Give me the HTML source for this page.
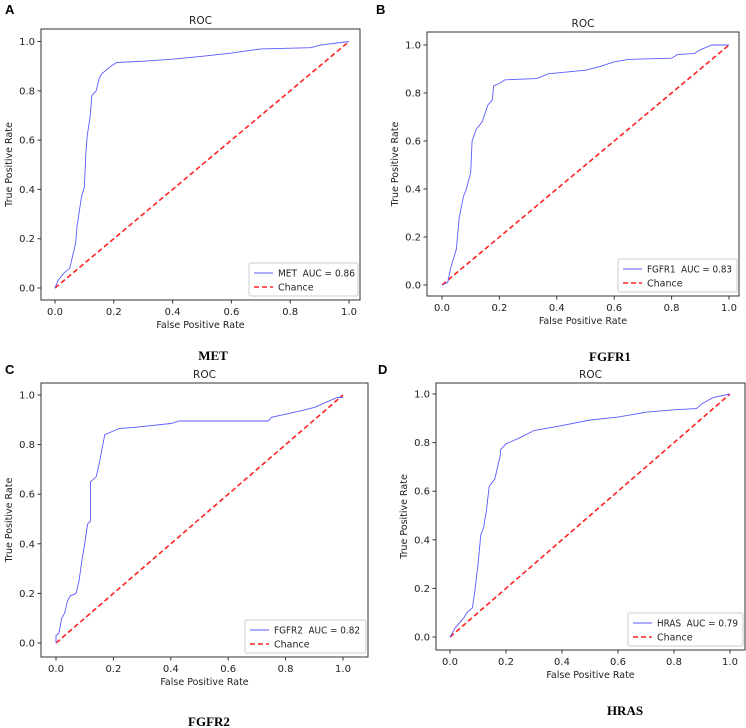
<!DOCTYPE html>
<html><head><meta charset="utf-8">
<style>
html,body{margin:0;padding:0;background:#fff;}
svg{display:block;font-family:"DejaVu Sans","Liberation Sans",sans-serif;}
</style></head>
<body>
<svg id="fig" width="746" height="728" viewBox="0 0 746 728"></svg>
<script>
// Data arrays
const tickValues = [0.0, 0.2, 0.4, 0.6, 0.8, 1.0];
const tickLabels = ["0.0", "0.2", "0.4", "0.6", "0.8", "1.0"];
const panelLetters = ["A", "B", "C", "D"];
const geneNames = ["MET", "FGFR1", "FGFR2", "HRAS"];
const aucValues = ["0.86", "0.83", "0.82", "0.79"];
const metFpr = [0,0.01,0.03,0.05,0.06,0.07,0.075,0.085,0.09,0.1,0.105,0.11,0.12,0.125,0.14,0.15,0.16,0.19,0.21,0.3,0.4,0.5,0.6,0.7,0.87,0.9,1];
const metTpr = [0,0.03,0.06,0.08,0.13,0.18,0.25,0.33,0.37,0.41,0.55,0.62,0.70,0.78,0.80,0.85,0.87,0.9,0.915,0.92,0.928,0.94,0.953,0.97,0.975,0.985,1];
const fgfr1Fpr = [0,0.02,0.03,0.05,0.06,0.075,0.085,0.1,0.105,0.12,0.14,0.16,0.175,0.18,0.2,0.22,0.33,0.37,0.5,0.55,0.6,0.65,0.8,0.82,0.88,0.9,0.94,1];
const fgfr1Tpr = [0,0.01,0.07,0.15,0.28,0.37,0.40,0.47,0.6,0.65,0.68,0.75,0.77,0.83,0.84,0.855,0.86,0.88,0.895,0.91,0.93,0.94,0.945,0.96,0.965,0.98,1.0,1];
const fgfr2Fpr = [0,0,0.01,0.02,0.03,0.04,0.05,0.07,0.08,0.09,0.1,0.11,0.12,0.12,0.14,0.15,0.16,0.17,0.2,0.22,0.28,0.4,0.43,0.74,0.75,0.85,0.9,0.95,0.98,1];
const fgfr2Tpr = [0,0.03,0.04,0.1,0.12,0.17,0.19,0.2,0.25,0.33,0.4,0.48,0.49,0.65,0.67,0.72,0.78,0.84,0.855,0.865,0.87,0.885,0.895,0.895,0.91,0.935,0.95,0.975,0.99,0.99];
const hrasFpr = [0,0.02,0.05,0.06,0.08,0.09,0.1,0.11,0.12,0.13,0.14,0.16,0.17,0.18,0.18,0.2,0.25,0.3,0.4,0.5,0.6,0.7,0.8,0.88,0.9,0.94,1];
const hrasTpr = [0,0.04,0.08,0.1,0.12,0.2,0.3,0.42,0.45,0.52,0.62,0.65,0.7,0.75,0.77,0.795,0.82,0.85,0.87,0.893,0.905,0.925,0.935,0.94,0.96,0.985,1];
const seriesFpr = [metFpr, fgfr1Fpr, fgfr2Fpr, hrasFpr];
const seriesTpr = [metTpr, fgfr1Tpr, fgfr2Tpr, hrasTpr];

// layout (not data)
const layouts = [
  {bl:41,br:360,bt:29,bb:300,x0:55,x1:349,y1:41.5,y0:288,lx:5,ly:14,cx:213,cy:360,lw:109,tl:77},
  {bl:427,br:739,bt:32,bb:296,x0:442,x1:729,y1:45,y0:285,lx:376,ly:14,cx:610,cy:361,lw:119,tl:85},
  {bl:41,br:368,bt:383,bb:657,x0:56,x1:343,y1:395,y0:643,lx:5,ly:374,cx:209,cy:726,lw:121,tl:86},
  {bl:436,br:745,bt:383,bb:650,x0:450,x1:730,y1:394,y0:637,lx:378,ly:374,cx:625,cy:715,lw:115,tl:81}
];
const NS = "http://www.w3.org/2000/svg";
const svg = document.getElementById("fig");
function mk(tag, attrs, parent, txt){
  const e = document.createElementNS(NS, tag);
  for (const k in attrs) e.setAttribute(k, attrs[k]);
  if (txt !== undefined) e.textContent = txt;
  parent.appendChild(e);
  return e;
}
layouts.forEach((L, i) => {
  const g = mk("g", {}, svg);
  
  
  const xs = v => L.x0 + v * (L.x1 - L.x0);
  const ys = v => L.y0 - v * (L.y0 - L.y1);
  const letter = mk("text", {x:L.lx, y:L.ly, "font-size":13, "font-weight":"bold", "font-family":"Liberation Sans, sans-serif"}, g, panelLetters[i]);
  
  
  const title = mk("text", {x:(L.bl+L.br)/2, y:L.bt-5, "font-size":10.5, "text-anchor":"middle", fill:"#222"}, g, "ROC");
  
  
  const frame = mk("rect", {x:L.bl, y:L.bt, width:L.br-L.bl, height:L.bb-L.bt, fill:"none", stroke:"#333", "stroke-width":1}, g);
  
  
  tickValues.forEach((t, k) => {
    mk("line", {x1:xs(t), x2:xs(t), y1:L.bb, y2:L.bb+3.5, stroke:"#333"}, g);
    const xt = mk("text", {x:xs(t), y:L.bb+15, "font-size":10, "text-anchor":"middle", fill:"#222"}, g, tickLabels[k]);
    
    
    mk("line", {x1:L.bl-3.5, x2:L.bl, y1:ys(t), y2:ys(t), stroke:"#333"}, g);
    const yt = mk("text", {x:L.bl-6, y:ys(t)+3.5, "font-size":10, "text-anchor":"end", fill:"#222"}, g, tickLabels[k]);
    
    
  });
  const xl = mk("text", {x:(L.bl+L.br)/2, y:L.bb+28, "font-size":9.5, "text-anchor":"middle", fill:"#222"}, g, "False Positive Rate");
  
  
  const yx = L.bl - 29, yy = (L.bt + L.bb) / 2;
  const yl = mk("text", {x:yx, y:yy, "font-size":9.5, "text-anchor":"middle", fill:"#222", transform:`rotate(-90 ${yx} ${yy})`}, g, "True Positive Rate");
  
  
  const chance = mk("line", {x1:xs(0), y1:ys(0), x2:xs(1), y2:ys(1), stroke:"#f22", "stroke-width":1.6, "stroke-dasharray":"5,3"}, g);
  
  
  const fpr = seriesFpr[i], tpr = seriesTpr[i];
  const pts = fpr.map((f, k) => xs(f).toFixed(1) + "," + ys(tpr[k]).toFixed(1)).join(" ");
  const roc = mk("polyline", {points:pts, fill:"none", stroke:"#5b5bff", "stroke-width":0.9}, g);
  
  
  // legend
  const lw = L.lw, lh = 33, lxr = L.br - 2 - lw, lyb = L.bb - 4 - lh;
  const lg = mk("g", {}, g);
  
  
  mk("rect", {x:lxr, y:lyb, width:lw, height:lh, rx:2, fill:"#fff", stroke:"#ccc"}, lg);
  mk("line", {x1:lxr+5, x2:lxr+24, y1:lyb+10, y2:lyb+10, stroke:"#5b5bff", "stroke-width":1}, lg);
  const le1 = mk("text", {x:lxr+29, y:lyb+13.5, "font-size":9.5, fill:"#222", textLength:L.tl, lengthAdjust:"spacingAndGlyphs"}, lg, geneNames[i] + "  AUC = " + aucValues[i]);
  
  
  le1.style.whiteSpace = "pre";
  mk("line", {x1:lxr+5, x2:lxr+24, y1:lyb+24, y2:lyb+24, stroke:"#f22", "stroke-width":1.6, "stroke-dasharray":"5,3"}, lg);
  const le2 = mk("text", {x:lxr+29, y:lyb+27.5, "font-size":9.5, fill:"#222"}, lg, "Chance");
  
  
  const cap = mk("text", {x:L.cx, y:L.cy, "font-size":13, "font-weight":"bold", "text-anchor":"middle", "font-family":"Liberation Serif, serif"}, g, geneNames[i]);
  
  
});
</script>
</body></html>
